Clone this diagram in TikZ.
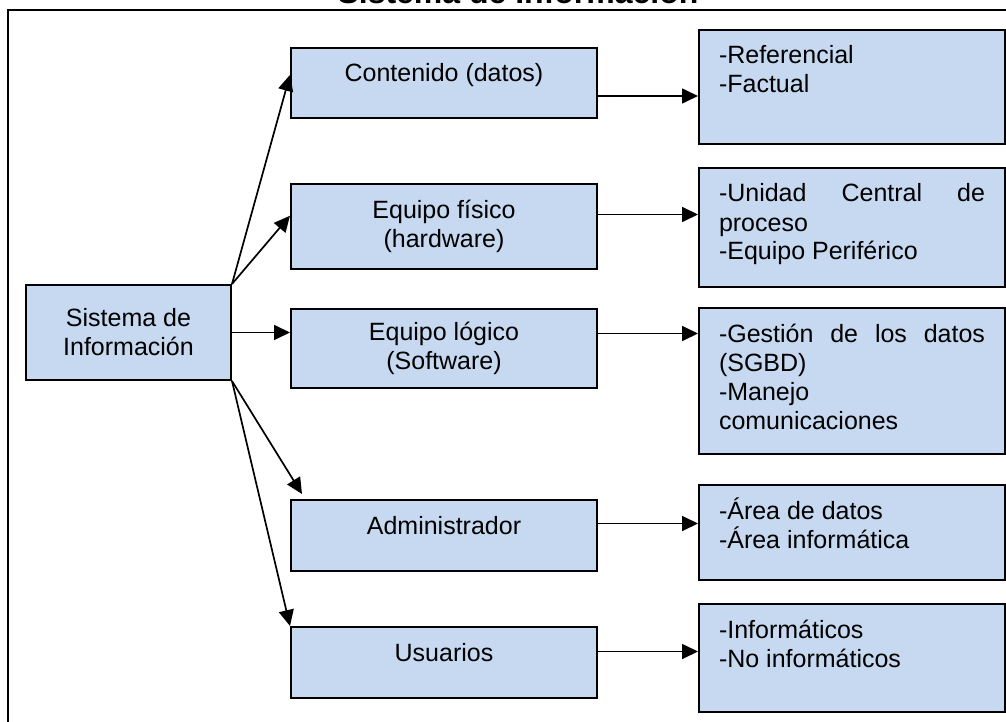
\documentclass[tikz,border=0pt]{standalone}
\usepackage{fontspec}
\setmainfont{Liberation Sans}
\usepackage{xcolor}
\usepackage{tikz}
\usetikzlibrary{arrows.meta}

\definecolor{cajaazul}{HTML}{C6D9F0}

\begin{document}
\begin{tikzpicture}[x=1pt, y=-1pt]
        \useasboundingbox (0,0) rectangle (1006,722);
        \clip (0,0) rectangle (1006,722);
        \tikzstyle{Caja} = [draw = black, line width = 2pt, fill = cajaazul, font = \fontsize{25}{29}\selectfont, inner sep = 0pt]
        \tikzstyle{CajaCentro} = [Caja, minimum width = 306pt, align = center]
        \tikzstyle{UnaLinea} = [text height = 18pt, text depth = 21pt]
        \tikzstyle{CajaLista} = [Caja, anchor = north west, inner xsep = 20pt, text height = 34pt]
        \tikzstyle{Flecha} = [line width = 1.7pt, -{Triangle[length = 16pt, width = 15pt]}]
        \draw[line width = 2.2pt] (8,10) rectangle (1030,740);
        \node[font = \fontsize{32}{36}\selectfont\bfseries, anchor = base] (titulo) at (518,4) {Sistema de Información};
        \node[Caja, minimum width = 205pt, minimum height = 95pt, align = center] (sis) at (128.5,332.5) {Sistema de\\Información};
        \node[CajaCentro, UnaLinea, minimum height = 70pt] (cont) at (444,83) {Contenido (datos)};
        \node[CajaCentro, minimum height = 85pt] (fis) at (444,226.5) {Equipo físico\\(hardware)};
        \node[CajaCentro, minimum height = 79pt] (log) at (444,348.5) {Equipo lógico\\(Software)};
        \node[CajaCentro, UnaLinea, minimum height = 71pt] (adm) at (444,535.5) {Administrador};
        \node[CajaCentro, UnaLinea, minimum height = 71pt] (usu) at (444,662.5) {Usuarios};
        \node[CajaLista, text depth = 80pt] (ref) at (698,29) {\parbox[t]{266pt}{-Referencial\\-Factual}};
        \node[CajaLista, text depth = 85pt] (uni) at (698,167) {\parbox[t]{266pt}{-Unidad\hfill Central\hfill de\\proceso\\-Equipo Periférico}};
        \node[CajaLista, text depth = 112pt] (ges) at (698,307) {\parbox[t]{266pt}{-Gestión\hfill de\hfill los\hfill datos\\(SGBD)\\-Manejo\\comunicaciones}};
        \node[CajaLista, text depth = 61pt] (are) at (698,484) {\parbox[t]{266pt}{-Área de datos\\-Área informática}};
        \node[CajaLista, text depth = 74pt] (inf) at (698,603) {\parbox[t]{266pt}{-Informáticos\\-No informáticos}};
        % desde el sistema
        \draw[Flecha] (sis.north east) -- (cont.177);
        \draw[Flecha] (sis.north east) -- (fis.176);
        \draw[Flecha] (sis.east) -- (sis.east -| log.west);
        \draw[Flecha] (sis.south east) -- ([xshift = 12pt, yshift = 5pt]adm.north west);
        \draw[Flecha] (sis.south east) -- (usu.north west);
        % hacia las listas
        \draw[Flecha] ([yshift = -13pt]cont.east) -- ([yshift = -13pt]cont.east -| ref.west);
        \draw[Flecha] ([yshift = 12pt]fis.east) -- ([yshift = 12pt]fis.east -| uni.west);
        \draw[Flecha] ([yshift = 15pt]log.east) -- ([yshift = 15pt]log.east -| ges.west);
        \draw[Flecha] ([yshift = 12pt]adm.east) -- ([yshift = 12pt]adm.east -| are.west);
        \draw[Flecha] ([yshift = 11pt]usu.east) -- ([yshift = 11pt]usu.east -| inf.west);
    \end{tikzpicture}
\end{document}
